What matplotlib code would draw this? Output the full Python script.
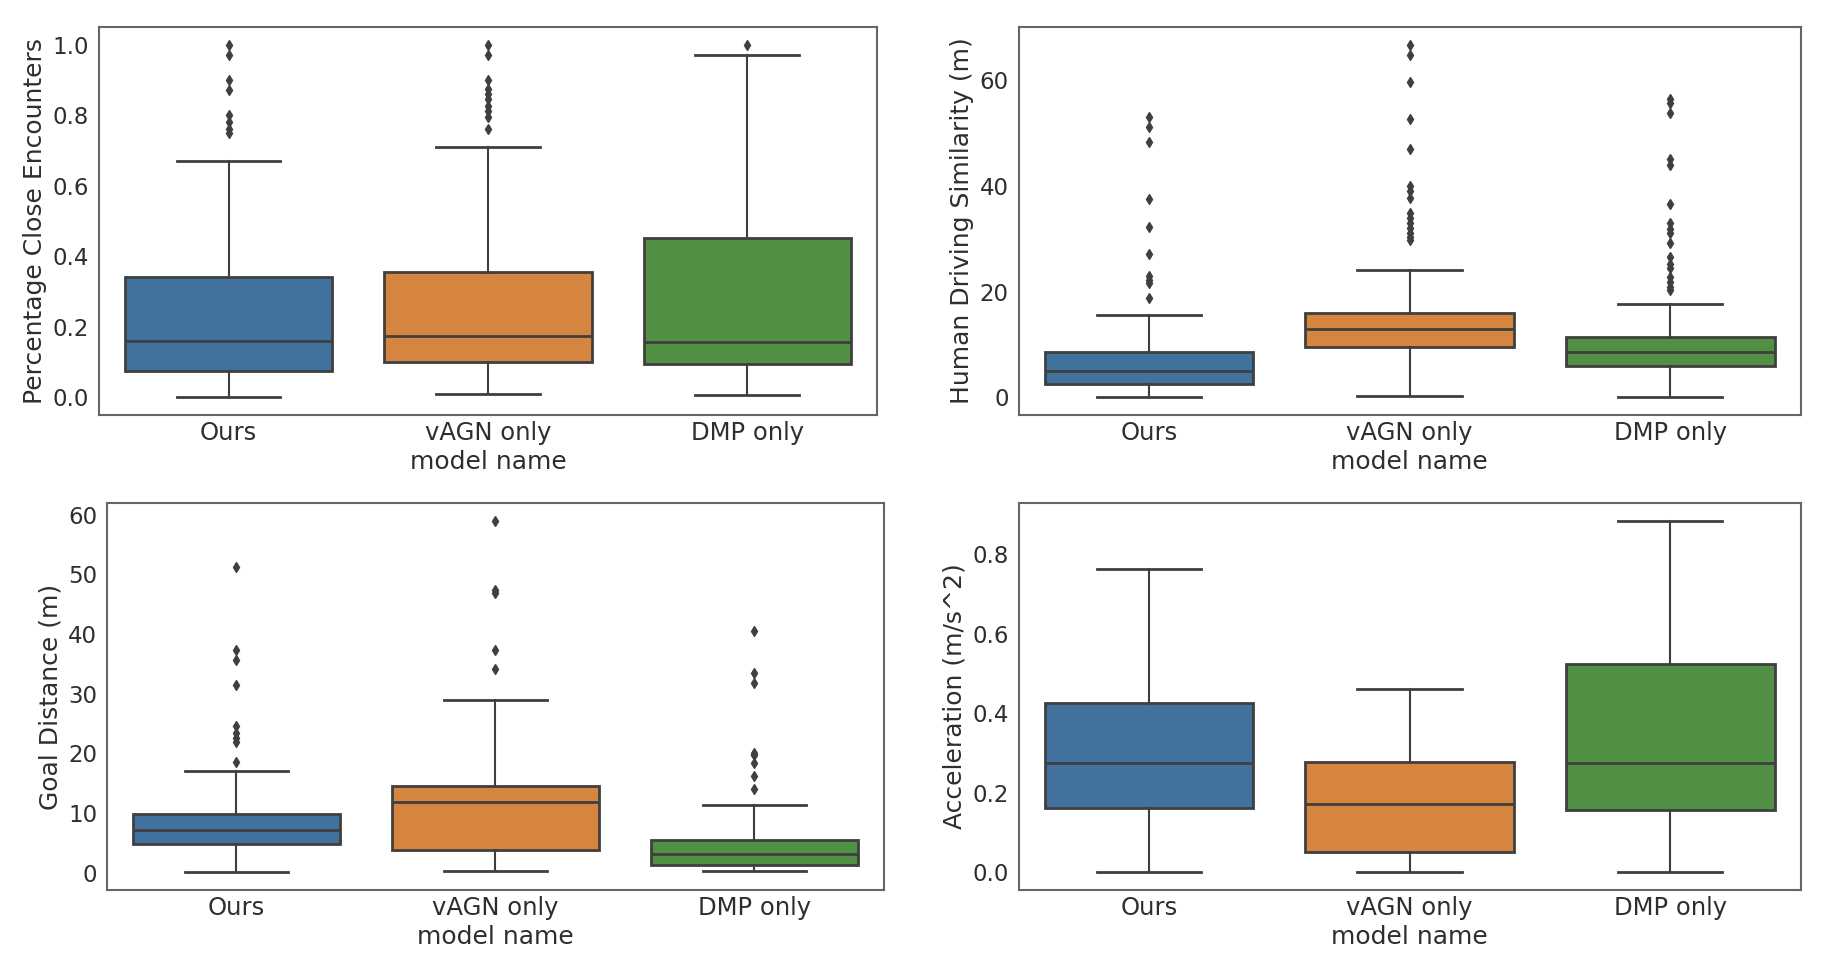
import matplotlib.pyplot as plt
from matplotlib.ticker import MultipleLocator
import numpy as np

models = ["Ours", "vAGN only", "DMP only"]
colors = ["#41729e", "#d5853f", "#518f44"]

# Percentage Close Encounters
pce_q1 = [0.076, 0.099, 0.095]
pce_med = [0.159, 0.173, 0.156]
pce_q3 = [0.340, 0.356, 0.451]
pce_lo = [0.0, 0.0095, 0.007]
pce_hi = [0.669, 0.709, 0.971]
pce_fliers = [
    [1.0, 0.97, 0.90, 0.87, 0.80, 0.78, 0.76, 0.75],
    [1.0, 0.97, 0.90, 0.874, 0.86, 0.845, 0.826, 0.812, 0.796, 0.76],
    [1.0],
]

# Human Driving Similarity (m)
hds_q1 = [2.53, 9.57, 5.9]
hds_med = [4.94, 12.9, 8.55]
hds_q3 = [8.55, 16.0, 11.5]
hds_lo = [0.0, 0.25, 0.0]
hds_hi = [15.6, 24.0, 17.7]
hds_fliers = [
    [53.1, 51.1, 48.3, 37.5, 32.3, 27.2, 22.9, 22.2, 21.7, 18.7],
    [66.7, 64.8, 59.6, 52.6, 46.9, 39.9, 39.0, 37.7, 34.9, 33.9, 33.0,
     32.0, 31.1, 30.4, 29.7],
    [56.4, 55.6, 53.7, 45.1, 44.0, 36.6, 33.0, 31.8, 31.1, 29.2, 26.6,
     25.3, 24.4, 22.8, 21.9, 20.9, 20.3],
]

# Goal Distance (m)
gd_q1 = [4.8, 3.9, 1.28]
gd_med = [7.14, 11.8, 3.1]
gd_q3 = [9.93, 14.5, 5.47]
gd_lo = [0.1, 0.28, 0.28]
gd_hi = [17.0, 29.0, 11.4]
gd_fliers = [
    [51.2, 37.3, 35.7, 31.5, 24.6, 23.4, 22.6, 22.0, 18.5],
    [59.0, 47.3, 46.8, 37.4, 34.2],
    [40.5, 33.5, 31.8, 20.1, 19.8, 18.4, 16.2, 14.0],
]

# Acceleration (m/s^2)
acc_q1 = [0.161, 0.050, 0.158]
acc_med = [0.276, 0.173, 0.276]
acc_q3 = [0.425, 0.277, 0.524]
acc_lo = [0.002, 0.0, 0.002]
acc_hi = [0.763, 0.460, 0.885]
acc_fliers = [[], [], []]

# ylabel, stats, y tick step
panels = [
    ("Percentage Close Encounters", pce_q1, pce_med, pce_q3, pce_lo, pce_hi, pce_fliers, 0.2),
    ("Human Driving Similarity (m)", hds_q1, hds_med, hds_q3, hds_lo, hds_hi, hds_fliers, 20),
    ("Goal Distance (m)", gd_q1, gd_med, gd_q3, gd_lo, gd_hi, gd_fliers, 10),
    ("Acceleration (m/s^2)", acc_q1, acc_med, acc_q3, acc_lo, acc_hi, acc_fliers, 0.2),
]

# axes rectangles in figure fractions
rects = [
    [0.0540, 0.5695, 0.4247, 0.4025],
    [0.5560, 0.5695, 0.4269, 0.4025],
    [0.0584, 0.0768, 0.4241, 0.4015],
    [0.5560, 0.0768, 0.4269, 0.4015],
]

line_gray = "#3f3f3f"
text_gray = "#2e2e2e"

fig = plt.figure(figsize=(18.32, 9.64), dpi=100)

for rect, (ylabel, q1, med, q3, lo, hi, fliers, step) in zip(rects, panels):
    ax = fig.add_axes(rect)
    stats = []
    for i in range(len(models)):
        stats.append({"q1": q1[i], "med": med[i], "q3": q3[i],
                      "whislo": lo[i], "whishi": hi[i],
                      "fliers": np.array(fliers[i]), "label": models[i]})
    bp = ax.bxp(stats, positions=range(len(models)), widths=0.8,
                patch_artist=True,
                boxprops=dict(edgecolor=line_gray, linewidth=2),
                medianprops=dict(color=line_gray, linewidth=2),
                whiskerprops=dict(color=line_gray, linewidth=1.5),
                capprops=dict(color=line_gray, linewidth=2),
                flierprops=dict(marker="d", markerfacecolor=line_gray,
                                markeredgecolor=line_gray, markersize=5))
    for patch, c in zip(bp["boxes"], colors):
        patch.set_facecolor(c)
    ax.set_xlim(-0.5, 2.5)
    ax.yaxis.set_major_locator(MultipleLocator(step))
    ax.set_xticks(range(len(models)))
    ax.set_xticklabels(models, fontsize=17.5)
    ax.tick_params(axis="y", labelsize=16.5, pad=7)
    ax.tick_params(axis="x", pad=4)
    ax.tick_params(length=0, colors=text_gray)
    ax.set_ylabel(ylabel, fontsize=18, color=text_gray)
    ax.set_xlabel("model name", fontsize=18, color=text_gray, labelpad=4)
    for sp in ax.spines.values():
        sp.set_color("#666666")
        sp.set_linewidth(1.5)

fig.savefig("out.png", dpi=100)
